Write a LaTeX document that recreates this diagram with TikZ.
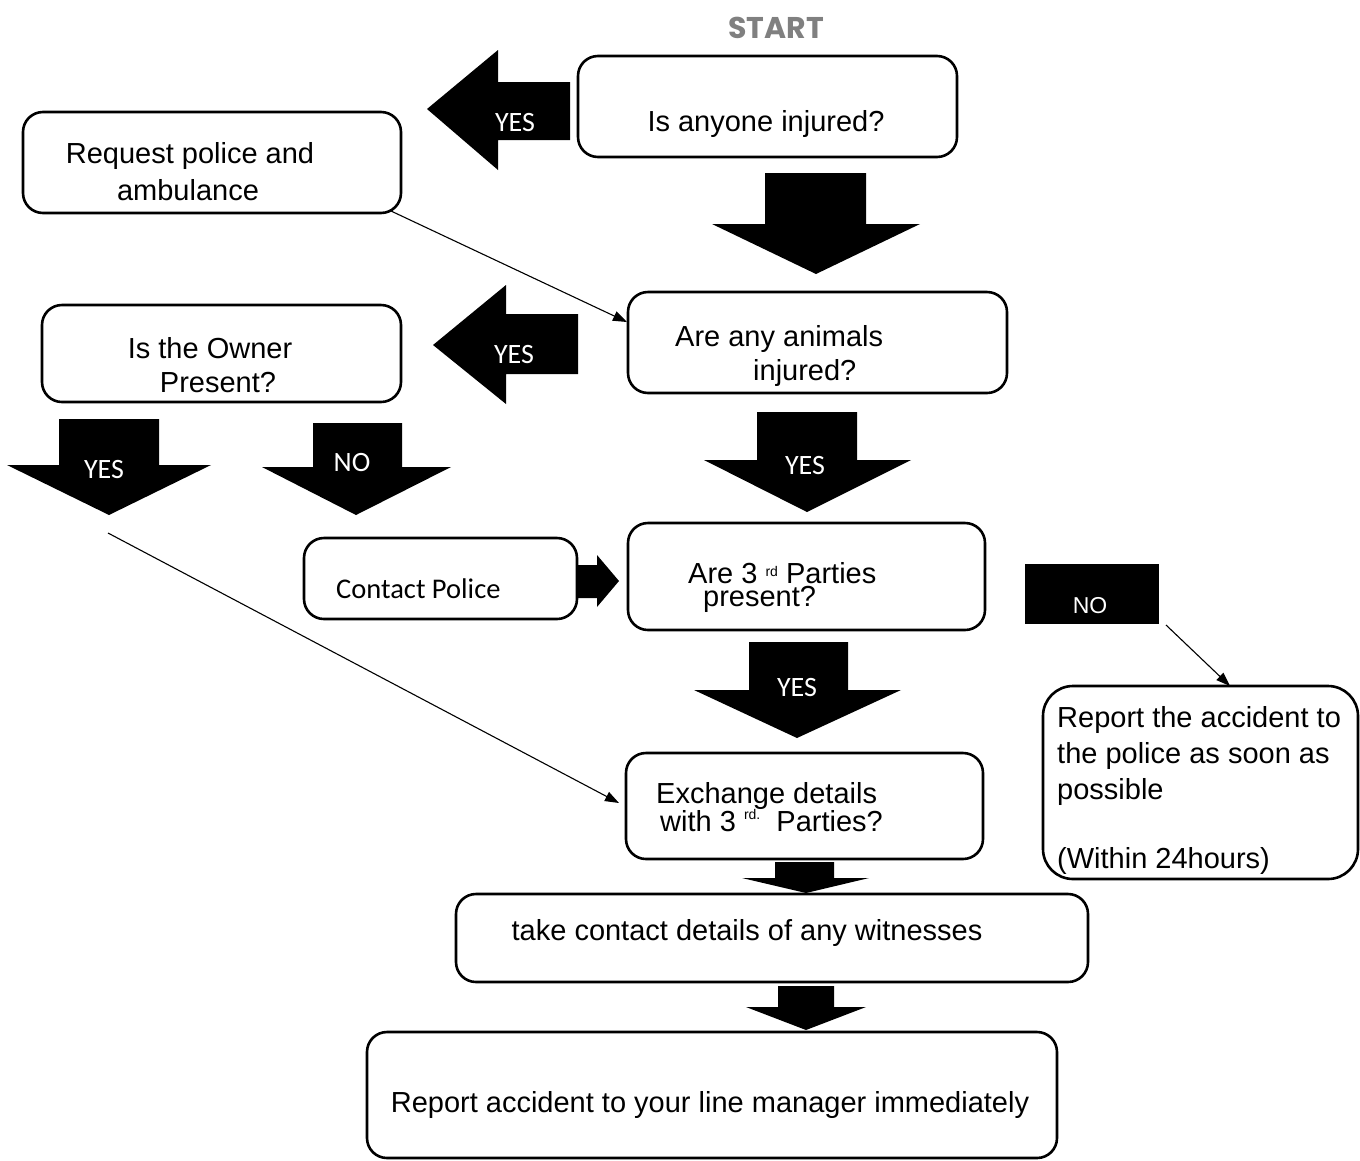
\documentclass[tikz,border=0pt]{standalone}
\usepackage{fontspec}
\setmainfont{Liberation Sans}
\newfontfamily\calfont{Carlito}
\newfontfamily\startfont{Poppins}
\usetikzlibrary{arrows.meta}
\definecolor{startgray}{RGB}{128,128,128}
\newcommand{\supsmall}[1]{{\fontsize{14}{14}\selectfont\raisebox{7pt}{#1}}}
\newcommand{\suphigh}[1]{{\fontsize{14}{14}\selectfont\raisebox{12pt}{#1}}}
\begin{document}
\begin{tikzpicture}[x=1pt,y=-1pt,
  box/.style={draw=black, line width=2.6pt, rounded corners=20pt, fill=white, inner sep=0pt},
  txt/.style={inner sep=0pt, font=\fontsize{29}{35}\selectfont},
  ctxt/.style={inner sep=0pt, font=\calfont\fontsize{28}{34}\selectfont, text=white},
  blk/.style={fill=black},
  thinarrow/.style={draw=black, line width=1.1pt, -{Triangle[length=14pt,width=10pt]}}
]
\useasboundingbox (0,0) rectangle (1360,1160);

% START
\node[inner sep=0pt, anchor=base, font=\startfont\bfseries\fontsize{30}{30}\selectfont, text=startgray] (start) at (776,38) {START};

% boxes
\node[box, minimum width=379pt, minimum height=101pt] (q1) at (767.5,106.5) {};
\node[box, minimum width=378pt, minimum height=101pt] (req) at (212,162.5) {};
\node[box, minimum width=379pt, minimum height=101pt] (ani) at (817.5,342.5) {};
\node[box, minimum width=359pt, minimum height=97pt] (own) at (221.5,353.5) {};
\node[box, minimum width=273pt, minimum height=81pt] (pol) at (440.5,578.5) {};
\node[box, minimum width=357pt, minimum height=107pt] (thr) at (806.5,576.5) {};
\node[box, minimum width=357pt, minimum height=106pt] (exc) at (804.5,806) {};
\node[box, minimum width=315pt, minimum height=193pt, rounded corners=30pt] (rep) at (1200.5,782.5) {};
\node[box, minimum width=632pt, minimum height=88pt] (wit) at (772,938) {};
\node[box, minimum width=690pt, minimum height=126pt] (mgr) at (712,1095) {};

% NO black box
\node[fill=black, minimum width=134pt, minimum height=60pt, inner sep=0pt] (nobox) at (1092,594) {};

% block arrows
\fill[blk] (570,82) -- (498,82) -- (498,50) -- (427,109) -- (498,170) -- (498,140) -- (570,140) -- cycle;
\fill[blk] (765,173) -- (866,173) -- (866,224) -- (920,224) -- (816,274) -- (712,224) -- (765,224) -- cycle;
\fill[blk] (578,314) -- (506,314) -- (506,285) -- (433,345) -- (506,404) -- (506,374) -- (578,374) -- cycle;
\fill[blk] (59,419) -- (159,419) -- (159,465) -- (211,465) -- (109,515) -- (7,465) -- (59,465) -- cycle;
\fill[blk] (313,423) -- (402,423) -- (402,467) -- (451,467) -- (356,515) -- (262,467) -- (313,467) -- cycle;
\fill[blk] (757,412) -- (857,412) -- (857,460) -- (911,460) -- (807,512) -- (704,460) -- (757,460) -- cycle;
\fill[blk] (577,565) -- (597,565) -- (597,555) -- (619,581) -- (597,607) -- (597,598) -- (577,598) -- cycle;
\fill[blk] (749,642) -- (848,642) -- (848,690) -- (901,690) -- (797,738) -- (694,690) -- (749,690) -- cycle;
\fill[blk] (775,862) -- (834,862) -- (834,878) -- (869,878) -- (806,893) -- (742,878) -- (775,878) -- cycle;
\fill[blk] (778,986) -- (834,986) -- (834,1007) -- (866,1007) -- (806,1030) -- (746,1007) -- (778,1007) -- cycle;

% arrow labels
\node[ctxt, anchor=base] (yA) at (515,131) {YES};
\node[ctxt, anchor=base] (yC) at (514,363) {YES};
\node[ctxt, anchor=base] (yD) at (104,478) {YES};
\node[ctxt, anchor=base] (nE) at (352,471) {NO};
\node[ctxt, anchor=base] (yF) at (805,474) {YES};
\node[ctxt, anchor=base] (yH) at (797,696) {YES};
\node[inner sep=0pt, anchor=base, text=white, font=\fontsize{23}{23}\selectfont] (nK) at (1090,613) {NO};

% box texts
\node[txt, anchor=base] (t1) at (766,131) {Is anyone injured?};
\node[txt, anchor=base] (t2a) at (190,163) {Request police and};
\node[txt, anchor=base] (t2b) at (188,200) {ambulance};
\node[txt, anchor=base west] (t3a) at (675,346) {Are any animals};
\node[txt, anchor=base west] (t3b) at (753,380) {injured?};
\node[txt, anchor=base] (t4a) at (210,358) {Is the Owner};
\node[txt, anchor=base] (t4b) at (218,392) {Present?};
\node[inner sep=0pt, anchor=base west, font=\calfont\fontsize{28.5}{34}\selectfont] (t5) at (336,598) {Contact Police};
\node[txt, anchor=base west] (t6a) at (688,583) {Are 3 \supsmall{rd} Parties};
\node[txt, anchor=base west] (t6b) at (703,606) {present?};
\node[txt, anchor=base west] (t7a) at (656,803) {Exchange details};
\node[txt, anchor=base west] (t7b) at (660,831) {with 3 \suphigh{rd.}\ \ Parties?};
\node[txt, anchor=base west] (t8a) at (1057,727) {Report the accident to};
\node[txt, anchor=base west] (t8b) at (1057,763) {the police as soon as};
\node[txt, anchor=base west] (t8c) at (1057,799) {possible};
\node[txt, anchor=base west] (t8d) at (1057,868) {(Within 24hours)};
\node[txt, anchor=base] (t9) at (747,940) {take contact details of any witnesses};
\node[txt, anchor=base] (t10) at (710,1112) {Report accident to your line manager immediately};

% thin connectors
\coordinate (r1) at (391,211);
\coordinate (r2) at (627,322);
\coordinate (d1) at (108,533);
\coordinate (d2) at (619,803);
\coordinate (n1) at (1166,625);
\coordinate (n2) at (1230,686);
\draw[thinarrow] (r1) -- (r2);
\draw[thinarrow] (d1) -- (d2);
\draw[thinarrow] (n1) -- (n2);
\end{tikzpicture}
\end{document}
